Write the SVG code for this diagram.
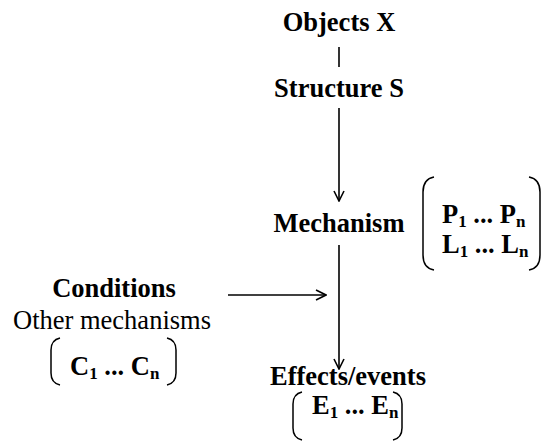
<svg xmlns="http://www.w3.org/2000/svg" width="545" height="441" viewBox="0 0 545 441" font-family="'Liberation Serif', 'DejaVu Serif', serif">
<defs>
<style>
text{font-family:'Liberation Serif','DejaVu Serif',serif;font-size:26.5px;fill:#000}
.b{font-weight:bold}
.sub{font-size:17px}
.ln{stroke:#000;stroke-width:1.6;fill:none}
.br{stroke:#000;stroke-width:1.5;fill:none}
</style>
<marker id="ah" viewBox="0 0 12 12" refX="11" refY="6" markerWidth="12" markerHeight="12" markerUnits="userSpaceOnUse" orient="auto">
<path d="M1,1 L11,6 L1,11" stroke="#000" stroke-width="1.6" fill="none"/>
</marker>
</defs>
<rect width="545" height="441" fill="#fff"/>
<g id="connectors">
<line class="ln" x1="339" y1="47" x2="339" y2="67"/>
<line class="ln" x1="339" y1="108" x2="339" y2="201" marker-end="url(#ah)"/>
<line class="ln" x1="339" y1="245" x2="339" y2="369" marker-end="url(#ah)"/>
<line class="ln" x1="228" y1="295" x2="326" y2="295" marker-end="url(#ah)"/>
</g>
<g id="objects">
<text class="b" x="339" y="31" text-anchor="middle">Objects X</text>
</g>
<g id="structure">
<text class="b" x="339" y="97" text-anchor="middle">Structure S</text>
</g>
<g id="mechanism">
<text class="b" x="339" y="232" text-anchor="middle">Mechanism</text>
<path class="br" d="M434,177 Q423,179 423,192 L423,255 Q423,268 434,270"/>
<path class="br" d="M529,177 Q540,179 540,192 L540,255 Q540,268 529,270"/>
<text class="b" x="442" y="223">P<tspan class="sub" dy="4">1</tspan><tspan dy="-4"> ... P</tspan><tspan class="sub" dy="4">n</tspan></text>
<text class="b" x="442" y="253">L<tspan class="sub" dy="4">1</tspan><tspan dy="-4"> ... L</tspan><tspan class="sub" dy="4">n</tspan></text>
</g>
<g id="conditions">
<text class="b" x="114" y="297" text-anchor="middle">Conditions</text>
<text x="112" y="329" text-anchor="middle">Other mechanisms</text>
<path class="br" d="M60,338 Q51,340 51,350 L51,373 Q51,383 60,385"/>
<path class="br" d="M167,338 Q176,340 176,350 L176,373 Q176,383 167,385"/>
<text class="b" x="70" y="375">C<tspan class="sub" dy="4">1</tspan><tspan dy="-4"> ... C</tspan><tspan class="sub" dy="4">n</tspan></text>
</g>
<g id="effects">
<text class="b" x="348" y="385" text-anchor="middle">Effects/events</text>
<path class="br" d="M302,392 Q293,394 293,404 L293,428 Q293,438 302,440"/>
<path class="br" d="M393,392 Q402,394 402,404 L402,428 Q402,438 393,440"/>
<text class="b" x="312" y="414">E<tspan class="sub" dy="4">1</tspan><tspan dy="-4"> ... E</tspan><tspan class="sub" dy="4">n</tspan></text>
</g>
</svg>
